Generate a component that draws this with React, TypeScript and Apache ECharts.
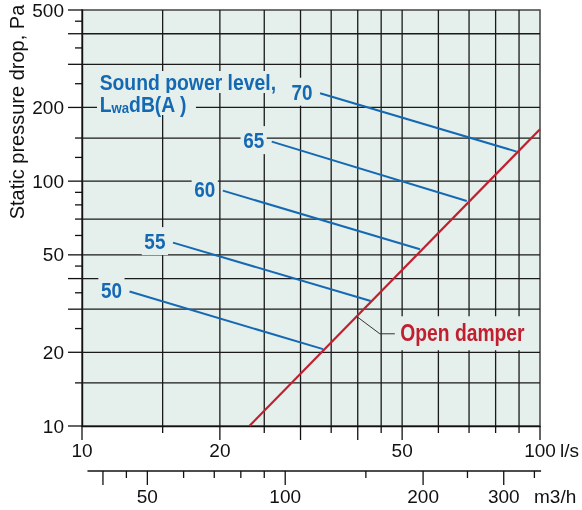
import React, { useEffect, useRef } from 'react';
import * as echarts from 'echarts';

// ---------- data ----------
const X_MIN = 10;
const X_MAX = 100;
const Y_MIN = 10;
const Y_MAX = 500;
const M3H_MIN = 36; // 10 l/s
const M3H_MAX = 360; // 100 l/s

const xGridLines = [15, 20, 25, 30, 35, 40, 45, 50, 60, 70, 80, 90];
const yGridLines = [15, 20, 30, 40, 50, 70, 100, 150, 200, 300, 400];
const xMajorTicks = [10, 20, 30, 40, 50, 100];
const xMinorTicks = [15, 25, 35, 45, 60, 70, 80, 90];
const yMajorTicks = [10, 20, 30, 40, 50, 100, 200, 300, 400, 500];
const yMinorTicks = [15, 25, 35, 45, 60, 70, 80, 90, 125, 150, 250, 350, 450];
const xTickLabels = [10, 20, 50, 100];
const yTickLabels = [10, 20, 50, 100, 200, 500];
const m3hMajorTicks = [40, 50, 100, 200, 300];
const m3hMinorTicks = [45, 60, 70, 80, 90, 150, 250, 350];
const m3hTickLabels = [50, 100, 200, 300];
const m3hAxisRange = [37, 362];

const soundLevels = ['50', '55', '60', '65', '70'];
const soundStart = [
  [12.7, 35.4],
  [15.8, 56.1],
  [20.3, 91.5],
  [25.96, 145],
  [33.1, 228.6],
];
const soundEnd = [
  [33.6, 20.6],
  [42.7, 32.4],
  [54.7, 52.7],
  [69.2, 83.0],
  [88.9, 132.0],
];
const openDamper = [
  [23.2, 10],
  [100, 163],
];
const openDamperLeader = [
  [39.8, 28.0],
  [44.7, 23.8],
  [48.2, 23.8],
];

// ---------- styles ----------
const BG = '#e5efeb';
const INK = '#111111';
const GRID = '#1a1a1a';
const BLUE = '#1569b3';
const RED = '#c01f30';
const FONT = "'Liberation Sans', Arial, Helvetica, sans-serif";

function lineEl(x1: number, y1: number, x2: number, y2: number, stroke = INK, lineWidth = 1) {
  return { type: 'line', shape: { x1, y1, x2, y2 }, style: { stroke, lineWidth } };
}
function textEl(x: number, y: number, text: string, align: string) {
  return {
    type: 'text',
    x,
    y,
    style: { text, fill: INK, fontSize: 19, fontFamily: FONT, align, verticalAlign: 'middle' },
  };
}

function customSeries(data: number[][], render: (v: number, api: any) => any, xAxisIndex = 0, z = 1) {
  return {
    type: 'custom',
    xAxisIndex,
    yAxisIndex: 0,
    z,
    silent: true,
    clip: false,
    data,
    renderItem: (_p: any, api: any) => render(api.value(0), api),
  };
}

function buildOption() {
  const series: any[] = [];

  // vertical grid lines
  series.push(
    customSeries(xGridLines.map((v) => [v, Y_MIN]), (v, api) => {
      const a = api.coord([v, Y_MIN]);
      const b = api.coord([v, Y_MAX]);
      return lineEl(a[0], a[1], b[0], b[1], GRID, 1.3);
    })
  );
  // horizontal grid lines
  series.push(
    customSeries(yGridLines.map((v) => [X_MIN, v]), (_v, api) => {
      const v = api.value(1);
      const a = api.coord([X_MIN, v]);
      const b = api.coord([X_MAX, v]);
      return lineEl(a[0], a[1], b[0], b[1], GRID, 1.3);
    })
  );
  // y ticks
  series.push(
    customSeries(yMajorTicks.map((v) => [X_MIN, v]), (_v, api) => {
      const a = api.coord([X_MIN, api.value(1)]);
      return lineEl(a[0] - 14, a[1], a[0], a[1], INK, 1.3);
    })
  );
  series.push(
    customSeries(yMinorTicks.map((v) => [X_MIN, v]), (_v, api) => {
      const a = api.coord([X_MIN, api.value(1)]);
      return lineEl(a[0] - 7, a[1], a[0], a[1], INK, 1.3);
    })
  );
  series.push(
    customSeries(yTickLabels.map((v) => [X_MIN, v]), (_v, api) => {
      const val = api.value(1);
      const a = api.coord([X_MIN, val]);
      return textEl(a[0] - 18, a[1], String(val), 'right');
    })
  );
  // x ticks
  series.push(
    customSeries(xMajorTicks.map((v) => [v, Y_MIN]), (v, api) => {
      const a = api.coord([v, Y_MIN]);
      return lineEl(a[0], a[1], a[0], a[1] + 14, INK, 1.3);
    })
  );
  series.push(
    customSeries(xMinorTicks.map((v) => [v, Y_MIN]), (v, api) => {
      const a = api.coord([v, Y_MIN]);
      return lineEl(a[0], a[1], a[0], a[1] + 7, INK, 1.3);
    })
  );
  series.push(
    customSeries(xTickLabels.map((v) => [v, Y_MIN]), (v, api) => {
      const a = api.coord([v, Y_MIN]);
      const label = textEl(a[0], a[1] + 24, String(v), 'center');
      if (v === X_MAX) {
        return {
          type: 'group',
          children: [label, textEl(a[0] + 20, a[1] + 24, 'l/s', 'left')],
        };
      }
      return label;
    })
  );
  // secondary m3/h axis
  const OFF = 45;
  series.push(
    customSeries([[m3hAxisRange[0], Y_MIN]], (_v, api) => {
      const a = api.coord([m3hAxisRange[0], Y_MIN]);
      const b = api.coord([m3hAxisRange[1], Y_MIN]);
      return {
        type: 'group',
        children: [
          lineEl(a[0], a[1] + OFF, b[0], b[1] + OFF, INK, 1.4),
          textEl(api.coord([M3H_MAX, Y_MIN])[0] - 6, a[1] + OFF + 25, 'm3/h', 'left'),
        ],
      };
    }, 1)
  );
  series.push(
    customSeries(m3hMajorTicks.map((v) => [v, Y_MIN]), (v, api) => {
      const a = api.coord([v, Y_MIN]);
      return lineEl(a[0], a[1] + OFF, a[0], a[1] + OFF + 14, INK, 1.3);
    }, 1)
  );
  series.push(
    customSeries(m3hMinorTicks.map((v) => [v, Y_MIN]), (v, api) => {
      const a = api.coord([v, Y_MIN]);
      return lineEl(a[0], a[1] + OFF, a[0], a[1] + OFF + 7, INK, 1.3);
    }, 1)
  );
  series.push(
    customSeries(m3hTickLabels.map((v) => [v, Y_MIN]), (v, api) => {
      const a = api.coord([v, Y_MIN]);
      return textEl(a[0], a[1] + OFF + 25, String(v), 'center');
    }, 1)
  );

  // sound power level lines
  soundLevels.forEach((lvl, i) => {
    series.push({
      type: 'line',
      name: lvl,
      z: 3,
      silent: true,
      symbol: 'none',
      lineStyle: { color: BLUE, width: 2 },
      emphasis: { disabled: true },
      data: [soundStart[i], soundEnd[i]],
    });
  });
  // level labels (condensed bold, like the original's narrow face)
  series.push({
    type: 'custom',
    z: 6,
    silent: true,
    clip: false,
    data: soundStart.map((p, i) => [p[0], p[1], i]),
    renderItem: (_p: any, api: any) => {
      const pt = api.coord([api.value(0), api.value(1)]);
      return {
        type: 'text',
        x: pt[0] - 5,
        y: pt[1] - 1.5,
        scaleX: 0.86,
        style: {
          text: soundLevels[api.value(2)],
          fill: BLUE,
          fontSize: 22,
          fontWeight: 'bold',
          fontFamily: FONT,
          align: 'right',
          verticalAlign: 'middle',
          backgroundColor: BG,
          padding: [3, 3, 3, 3],
        },
      };
    },
  });

  // open damper
  series.push({
    type: 'line',
    name: 'Open damper',
    z: 4,
    silent: true,
    symbol: 'none',
    lineStyle: { color: RED, width: 2.2 },
    emphasis: { disabled: true },
    data: openDamper,
  });
  series.push({
    type: 'line',
    name: 'leader',
    z: 4,
    silent: true,
    symbol: 'none',
    lineStyle: { color: '#333', width: 1 },
    emphasis: { disabled: true },
    data: openDamperLeader,
  });
  series.push({
    type: 'custom',
    z: 6,
    silent: true,
    clip: false,
    data: [openDamperLeader[openDamperLeader.length - 1]],
    renderItem: (_p: any, api: any) => {
      const pt = api.coord([api.value(0), api.value(1)]);
      return {
        type: 'text',
        x: pt[0] + 2,
        y: pt[1] - 0.5,
        scaleX: 0.84,
        style: {
          text: 'Open damper',
          fill: RED,
          fontSize: 23,
          fontWeight: 'bold',
          fontFamily: FONT,
          align: 'left',
          verticalAlign: 'middle',
          backgroundColor: BG,
          padding: [6, 4, 5, 4],
        },
      };
    },
  });

  const richBase = {
    fontFamily: FONT,
    fontWeight: 'bold',
    fontSize: 22,
    fill: BLUE,
    backgroundColor: BG,
    lineHeight: 22,
  };

  return {
    animation: false,
    grid: {
      left: 82,
      right: 42,
      top: 10,
      bottom: 84,
      show: true,
      backgroundColor: BG,
      borderColor: '#444',
      borderWidth: 1.5,
    },
    xAxis: [
      {
        type: 'log',
        logBase: 10,
        min: X_MIN,
        max: X_MAX,
        axisLine: { show: true, lineStyle: { color: INK, width: 1.4 } },
        axisTick: { show: false },
        axisLabel: { show: false },
        splitLine: { show: false },
      },
      {
        type: 'log',
        logBase: 10,
        min: M3H_MIN,
        max: M3H_MAX,
        show: false,
        splitLine: { show: false },
      },
    ],
    yAxis: {
      type: 'log',
      logBase: 10,
      min: Y_MIN,
      max: Y_MAX,
      axisLine: { show: true, lineStyle: { color: INK, width: 1.4 } },
      axisTick: { show: false },
      axisLabel: { show: false },
      splitLine: { show: false },
    },
    graphic: [
      {
        type: 'text',
        x: 17,
        y: 112,
        rotation: Math.PI / 2,
        z: 100,
        style: {
          text: 'Static pressure drop, Pa',
          fill: INK,
          fontSize: 20,
          fontFamily: FONT,
          align: 'center',
          verticalAlign: 'middle',
        },
      },
      {
        type: 'text',
        x: 97,
        y: 71,
        z: 100,
        scaleX: 0.88,
        style: {
          text: '{a|Sound power level,}\n{l|L}{s|wa}{r|dB(A )}',
          rich: {
            a: { ...richBase, padding: [0, 3, 0, 3] },
            l: { ...richBase, padding: [0, 0, 0, 3] },
            s: { ...richBase, fontSize: 15, lineHeight: 14, verticalAlign: 'bottom' },
            r: { ...richBase, padding: [0, 10, 0, 0] },
          },
        },
      },
    ],
    series,
  };
}

export default function App() {
  const ref = useRef<HTMLDivElement>(null);
  useEffect(() => {
    const chart = echarts.init(ref.current!, null, { renderer: 'svg' });
    chart.setOption(buildOption() as any);
    return () => chart.dispose();
  }, []);
  return <div ref={ref} style={{ position: 'fixed', left: 0, top: 0, width: 582, height: 510 }} />;
}
